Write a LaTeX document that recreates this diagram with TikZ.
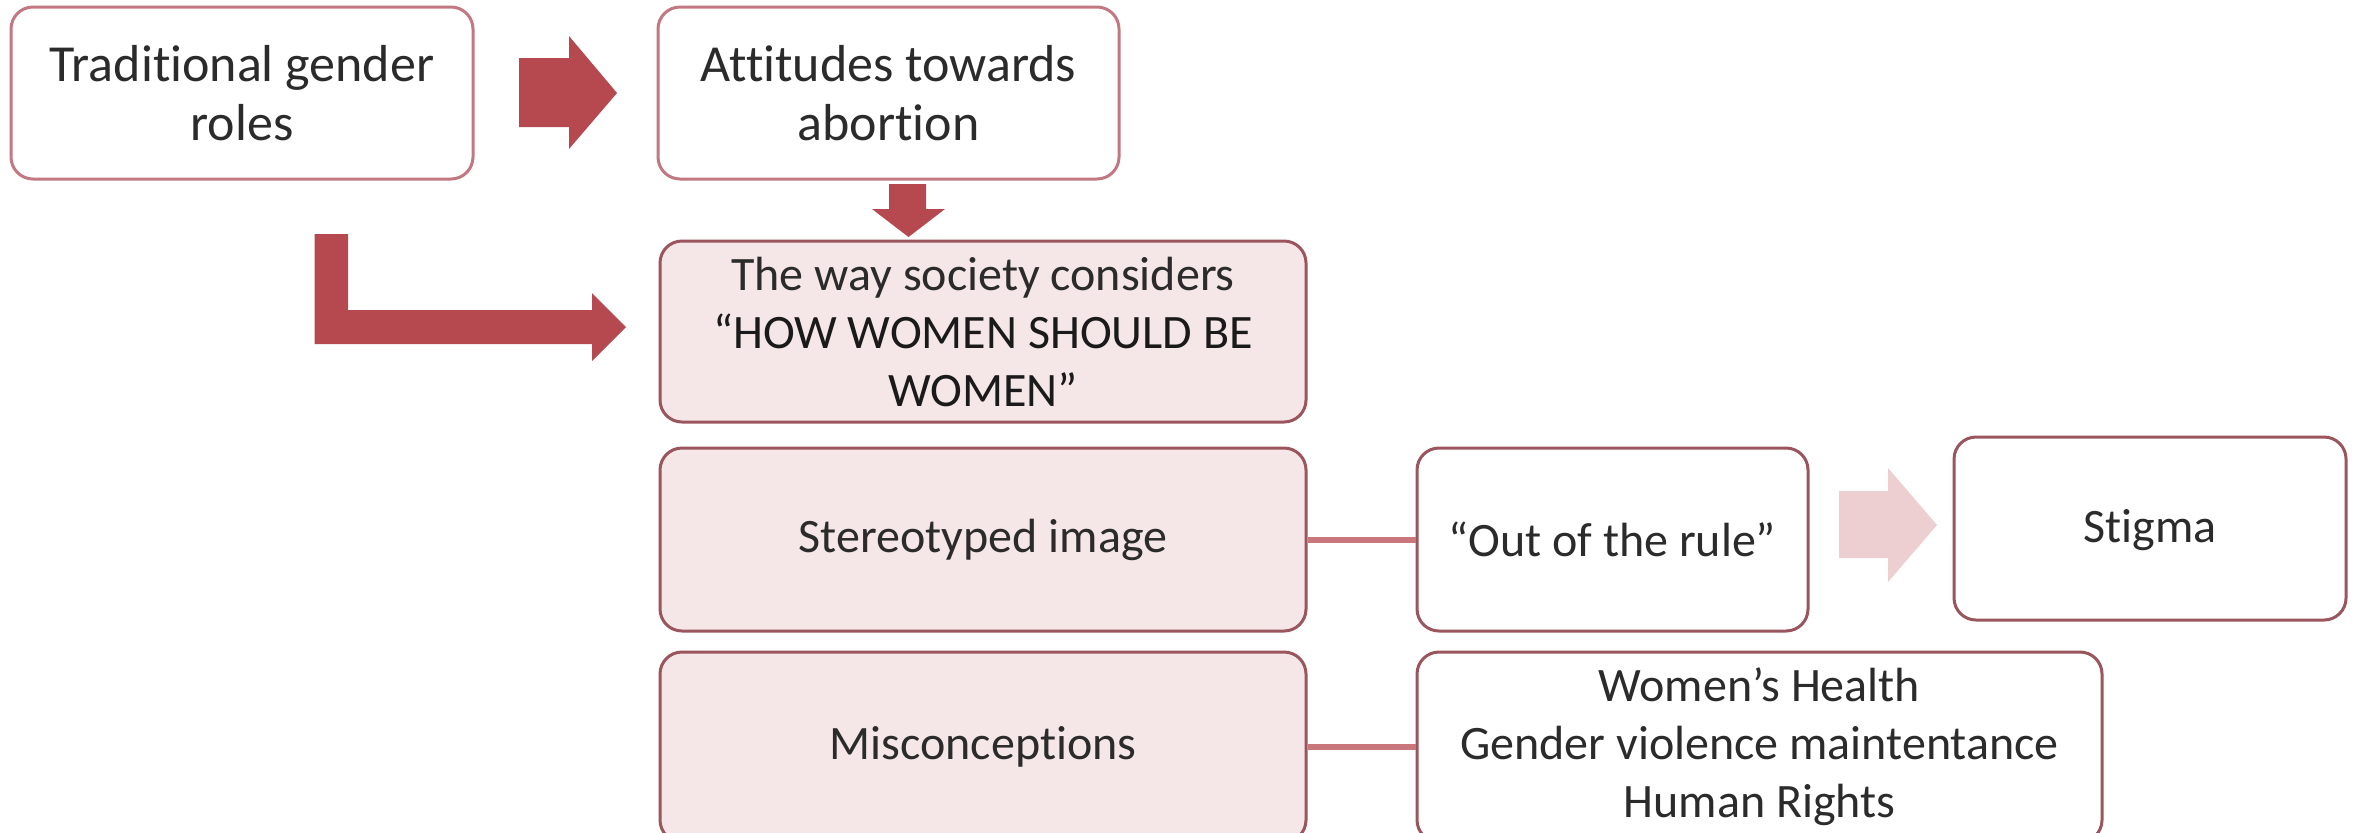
\documentclass[tikz,border=0pt]{standalone}
\usepackage{fontspec}
\setmainfont{Carlito}[Ligatures=NoCommon]
\definecolor{txt}{HTML}{2B2B2B}
\definecolor{txtdark}{HTML}{1A1A1A}
\definecolor{lightborder}{HTML}{C27880}
\definecolor{darkborder}{HTML}{9A555D}
\definecolor{boxfill}{HTML}{F5E6E8}
\definecolor{arrowred}{HTML}{B5494F}
\definecolor{arrowpink}{HTML}{EDCFD2}
\definecolor{linkcol}{HTML}{C9767C}
\tikzset{
  base/.style={rounded corners=11pt, line width=1.5pt, align=center, text=txt,
    font=\fontsize{24}{29}\selectfont, inner sep=0pt},
  topbox/.style={base, draw=lightborder, fill=white, font=\fontsize{26}{29.5}\selectfont},
  pinkbox/.style={base, draw=darkborder, fill=boxfill},
  whitebox/.style={base, draw=darkborder, fill=white},
  blockarrow/.style={fill=arrowred, draw=none},
  softarrow/.style={fill=arrowpink, draw=none},
  link/.style={draw=linkcol, line width=3pt}
}
\begin{document}
\begin{tikzpicture}[x=0.5pt,y=-0.5pt]
\useasboundingbox (0,0) rectangle (2364,832);
\clip (0,0) rectangle (2364,832);
\fill[white] (0,0) rectangle (2364,832);

\node[topbox, minimum width=231pt, minimum height=86pt] (trad) at (242,93) {Traditional gender\\roles};
\node[topbox, minimum width=230.5pt, minimum height=86pt] (att) at (888.5,93) {Attitudes towards\\abortion};
\node[pinkbox, minimum width=323pt, minimum height=90.5pt] (way) at (983,331.5) {The way society considers\\{\color{txtdark}“HOW WOMEN SHOULD BE}\\{\color{txtdark}WOMEN”}};
\node[pinkbox, minimum width=323pt, minimum height=91.5pt] (stereo) at (983,539.5) {Stereotyped image};
\node[whitebox, minimum width=195.5pt, minimum height=91.5pt] (out) at (1612.5,539.5) {“Out of the rule”};
\node[whitebox, minimum width=196pt, minimum height=91.5pt, text depth=3pt] (stigma) at (2150,528.5) {Stigma};
\node[pinkbox, minimum width=323pt, minimum height=95pt] (misc) at (983,747) {Misconceptions};
\node[whitebox, minimum width=342.5pt, minimum height=95pt] (women) at (1759.5,747) {Women’s Health\\Gender violence maintentance\\Human Rights};

% connectors
\draw[link] (stereo.east) -- (out.west);
\draw[link] (misc.east) -- (women.west);

% block arrows
\fill[blockarrow] (519,58) -- (569,58) -- (569,36) -- (617,93) -- (569,149) -- (569,127) -- (519,127) -- cycle;
\fill[blockarrow] (889,184) -- (926,184) -- (926,209) -- (945,209) -- (908.5,237) -- (872,209) -- (889,209) -- cycle;
\fill[blockarrow] (314.5,234) -- (348,234) -- (348,310) -- (592,310) -- (592,293) -- (626,327) -- (592,361) -- (592,344) -- (314.5,344) -- cycle;
\fill[softarrow] (1839,491) -- (1888,491) -- (1888,468) -- (1937,525) -- (1888,582) -- (1888,558) -- (1839,558) -- cycle;
\end{tikzpicture}
\end{document}
